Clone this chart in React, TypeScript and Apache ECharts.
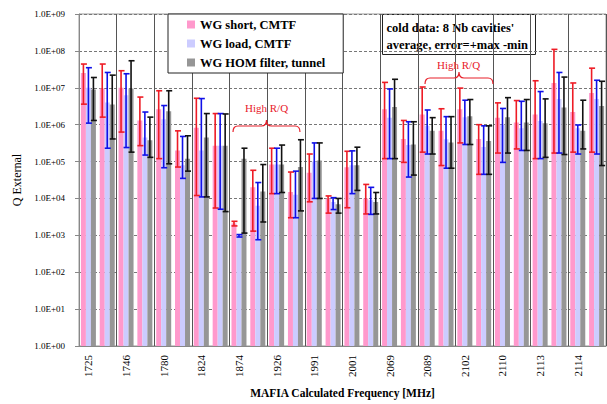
import React, { useEffect, useRef } from "react";
import * as echarts from "echarts";

const freqLabels = ["1725", "1746", "1780", "1824", "1874", "1926", "1991", "2001", "2069", "2089", "2102", "2110", "2113", "2114"];
const categories = freqLabels.flatMap((f) => [f + "-a", f + "-b"]);
const seriesNames = ["WG short, CMTF", "WG load, CMTF", "WG HOM filter, tunnel"];
const yTickLabels = ["1.0E+00", "1.0E+01", "1.0E+02", "1.0E+03", "1.0E+04", "1.0E+05", "1.0E+06", "1.0E+07", "1.0E+08", "1.0E+09"];

const pinkVal = [2.5e7, 9.5e6, 1.0e7, 1.3e6, 2.6e6, 2.0e5, 8.3e5, 2.7e5, 2.1e3, 2.0e4, 8.3e4, 1.5e4, 5.0e4, 1.0e4, 7.0e4, 1.0e4, 2.6e6, 4.1e5, 1.9e6, 6.8e5, 2.6e6, 4.1e5, 1.55e6, 1.15e6, 1.9e6, 1.35e7, 2.2e6, 7.2e6];
const pinkMax = [4.4e7, 4.4e7, 2.9e7, 5.6e6, 8.3e6, 6.8e5, 5.2e6, 2.0e6, 2.4e3, 5.8e4, 2.3e5, 5.2e4, 1.6e5, 1.17e4, 1.9e5, 2.4e4, 1.4e7, 1.3e6, 1.05e7, 2.7e6, 9.8e6, 1.0e6, 3.9e6, 4.5e6, 1.55e7, 1.1e8, 1.35e7, 3.4e7];
const pinkMin = [3.6e6, 1.6e6, 6.3e5, 2.7e5, 1.2e5, 7.1e4, 1.2e4, 5.5e3, 1.8e3, 1.3e3, 1.35e4, 3.0e3, 8.1e3, 4.0e3, 5.6e3, 3.8e3, 1.2e5, 9.5e4, 1.8e5, 7.8e4, 3.2e5, 4.5e4, 1.7e5, 2.2e5, 1.2e5, 1.7e5, 1.8e5, 1.8e5];

const lavVal = [1.0e7, 4.0e6, 6.3e6, 4.5e5, 1.4e6, 8.0e4, 2.0e5, 2.7e5, 1.0e3, 6.3e3, 8.3e4, 1.26e4, 1.0e5, 8.0e3, 8.0e4, 9.0e3, 1.55e6, 2.8e5, 9.3e5, 4.0e5, 1.6e6, 2.5e5, 1.0e6, 8.0e5, 1.26e6, 5.0e6, 8.0e5, 5.0e6];
const lavMax = [3.5e7, 2.6e7, 2.4e7, 2.2e6, 3.3e6, 4.8e5, 5.1e6, 2.0e6, 1.05e3, 2.7e4, 2.3e5, 5.5e4, 3.2e5, 1.05e4, 1.95e5, 2.0e4, 9.3e6, 1.2e6, 2.5e6, 1.65e6, 4.6e6, 9.3e5, 2.75e6, 4.3e6, 7.9e6, 2.6e7, 9.8e5, 1.6e7];
const lavMin = [1.1e6, 2.3e5, 2.4e5, 1.5e5, 6.8e4, 3.5e4, 1.1e4, 5.1e3, 9.0e2, 7.6e2, 1.35e4, 3.0e3, 1.0e4, 5.0e3, 1.35e4, 3.7e3, 1.2e5, 3.8e4, 1.6e5, 6.6e4, 2.9e5, 4.5e4, 9.5e4, 2.0e5, 1.2e5, 1.7e5, 1.6e5, 1.6e5];

const grayVal = [9.0e6, 3.5e6, 9.5e6, 3.8e5, 2.3e6, 1.2e5, 4.5e5, 2.7e5, 1.2e5, 1.55e4, 8.3e4, 7.1e4, 1.07e5, 7.0e3, 8.0e4, 8.0e3, 3.0e6, 2.9e5, 6.8e5, 3.3e5, 1.7e6, 3.6e5, 1.6e6, 1.15e6, 1.1e6, 2.9e6, 6.8e5, 3.2e6];
const grayMax = [1.9e7, 2.2e7, 5.4e7, 1.6e6, 8.3e6, 5.0e5, 2.0e6, 1.95e6, 2.3e5, 8.3e4, 2.8e5, 3.9e5, 3.2e5, 1.0e4, 2.45e5, 1.45e4, 1.7e7, 1.2e6, 1.55e6, 1.65e6, 4.8e6, 9.3e5, 5.4e6, 4.8e6, 5.0e6, 1.95e7, 4.6e6, 1.5e7];
const grayMin = [1.3e6, 4.1e5, 1.8e5, 1.3e5, 8.7e4, 5.5e4, 1.1e4, 4.4e3, 1.15e3, 2.3e3, 1.45e4, 4.6e3, 1.0e4, 4.0e3, 1.65e4, 3.8e3, 1.2e5, 4.3e4, 1.6e5, 6.6e4, 2.9e5, 4.5e4, 1.7e5, 2.0e5, 1.3e5, 1.55e5, 2.2e5, 7.8e4];

const SERIF = "'Liberation Serif', 'Times New Roman', serif";

echarts.graphic.registerShape(
  "brace",
  echarts.graphic.extendPath("M0,6 Q0,0 5,0 L29,0 Q34,0 34,-6 Q34,0 39,0 L63,0 Q68,0 68,6", {})
);

function barSeries(name: string, data: number[], color: string) {
  return {
    type: "bar",
    name,
    data,
    barWidth: 5,
    barGap: "0%",
    itemStyle: { color },
    z: 2,
  };
}

function errSeries(name: string, mins: number[], maxs: number[], color: string, offset: number) {
  return {
    type: "custom",
    name: name + " error",
    silent: true,
    z: 5,
    encode: { x: 0, y: [1, 2] },
    data: mins.map((m, i) => [i, m, maxs[i]]),
    renderItem: (_params: any, api: any) => {
      const idx = api.value(0);
      const top = api.coord([idx, api.value(2)]);
      const bot = api.coord([idx, api.value(1)]);
      const x = top[0] + offset;
      const cap = 3;
      const st = { stroke: color, lineWidth: 1.6 };
      return {
        type: "group",
        children: [
          { type: "line", shape: { x1: x, y1: top[1], x2: x, y2: bot[1] }, style: st },
          { type: "line", shape: { x1: x - cap + 0.5, y1: top[1], x2: x + cap + 0.5, y2: top[1] }, style: st },
          { type: "line", shape: { x1: x - cap + 0.5, y1: bot[1], x2: x + cap + 0.5, y2: bot[1] }, style: st },
        ],
      };
    },
  };
}

export default function App() {
  const ref = useRef<HTMLDivElement>(null);
  useEffect(() => {
    document.body.style.margin = "0";
    const chart = echarts.init(ref.current!, null, { renderer: "svg" });
    chart.setOption({
      animation: false,
      backgroundColor: "#ffffff",
      grid: { left: 79, right: 1, top: 14, bottom: 54, show: true, borderColor: "#9a9a9a", borderWidth: 1 },
      legend: {
        data: seriesNames,
        orient: "vertical",
        left: 168,
        top: 14,
        icon: "rect",
        itemWidth: 8,
        itemHeight: 8,
        itemGap: 6,
        padding: [4, 18, 4, 19],
        backgroundColor: "#ffffff",
        borderColor: "#222",
        borderWidth: 1,
        textStyle: { fontFamily: SERIF, fontWeight: "bold", fontSize: 12.5, color: "#000", lineHeight: 12 },
      },
      xAxis: {
        type: "category",
        data: categories,
        name: "MAFIA Calculated Frequency [MHz]",
        nameLocation: "middle",
        nameGap: 41,
        nameTextStyle: { fontFamily: SERIF, fontWeight: "bold", fontSize: 11.5, color: "#000" },
        axisLine: { lineStyle: { color: "#888", width: 1 } },
        axisTick: { interval: 1, length: 5, lineStyle: { color: "#555" } },
        axisLabel: {
          interval: 1,
          rotate: 90,
          margin: 9,
          fontFamily: SERIF,
          fontSize: 11,
          color: "#000",
          formatter: (v: string) => v.split("-")[0],
        },
        splitLine: { show: true, interval: 1, lineStyle: { color: "#555", width: 1 } },
      },
      yAxis: {
        type: "log",
        logBase: 10,
        min: 1,
        max: 1e9,
        splitNumber: 9,
        name: "Q External",
        nameLocation: "middle",
        nameGap: 52,
        nameTextStyle: { fontFamily: SERIF, fontSize: 12, color: "#000" },
        axisLine: { show: true, lineStyle: { color: "#888", width: 1 } },
        axisTick: { show: true, length: 4, lineStyle: { color: "#888" } },
        axisLabel: {
          fontFamily: SERIF,
          fontSize: 9,
          color: "#000",
          margin: 14,
          formatter: (v: number) => yTickLabels[Math.round(Math.log10(v))] ?? "",
        },
        splitLine: { show: true, lineStyle: { color: "#777", type: [3, 2], width: 1 } },
      },
      series: [
        barSeries(seriesNames[0], pinkVal, "#ff99cc"),
        barSeries(seriesNames[1], lavVal, "#ccccff"),
        barSeries(seriesNames[2], grayVal, "#969696"),
        errSeries(seriesNames[0], pinkMin, pinkMax, "#ee1c25", -5),
        errSeries(seriesNames[1], lavMin, lavMax, "#1010e8", 0),
        errSeries(seriesNames[2], grayMin, grayMax, "#111111", 5),
      ],
      graphic: [
        {
          type: "group",
          left: 382,
          top: 14,
          z: 10,
          children: [
            { type: "rect", shape: { x: 0, y: 0, width: 153, height: 40 }, style: { fill: "#fff", stroke: "#222", lineWidth: 1 } },
            {
              type: "text",
              x: 4,
              y: 5,
              style: {
                text: "cold data: 8 Nb cavities'\naverage, error=+max -min",
                font: "bold 12.5px " + SERIF,
                fill: "#000",
                lineHeight: 17,
              },
            },
          ],
        },
        { type: "text", left: 245, top: 102, z: 10, style: { text: "High R/Q", font: "11px " + SERIF, fill: "#e8202a" } },
        { type: "brace", x: 233, y: 126, scaleX: 67 / 68, z: 10, style: { stroke: "#e8202a", fill: "none", lineWidth: 1.2 } },
        { type: "text", left: 437, top: 59, z: 10, style: { text: "High R/Q", font: "11px " + SERIF, fill: "#e8202a" } },
        { type: "brace", x: 425, y: 78, z: 10, style: { stroke: "#e8202a", fill: "none", lineWidth: 1.2 } },
      ],
    });
    return () => chart.dispose();
  }, []);
  return <div ref={ref} style={{ width: 607, height: 404 }} />;
}
